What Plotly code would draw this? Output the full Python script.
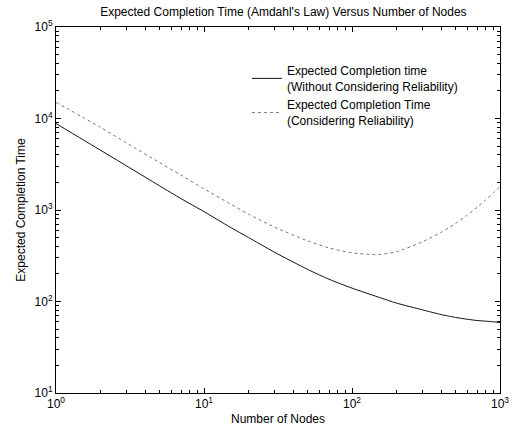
import plotly.graph_objects as go

nodes = [1, 2, 3, 5, 7, 10, 15, 20, 30, 50, 70, 100, 150, 200, 300, 400, 500, 600, 700, 800, 900, 1000]
time_no_rel = [8800, 4500, 3030, 1840, 1330, 960, 650, 500, 345, 225, 175, 140, 112, 96, 81, 72, 67, 64, 62, 61, 60, 59]
time_rel = [15000, 8000, 5400, 3300, 2400, 1700, 1170, 900, 650, 460, 385, 340, 325, 350, 450, 570, 710, 880, 1070, 1290, 1530, 1800]

name1 = "Expected Completion time<br>(Without Considering Reliability)"
name2 = "Expected Completion Time<br>(Considering Reliability)"
title = "Expected Completion Time (Amdahl's Law) Versus Number of Nodes"
xlabel = "Number of Nodes"
ylabel = "Expected Completion Time"
x_ticks = [1, 10, 100, 1000]
x_text = ["10<sup>0</sup>", "10<sup>1</sup>", "10<sup>2</sup>", "10<sup>3</sup>"]
y_ticks = [10, 100, 1000, 10000, 100000]
y_text = ["10<sup>1</sup>", "10<sup>2</sup>", "10<sup>3</sup>", "10<sup>4</sup>", "10<sup>5</sup>"]
x_minor = [m * d for d in [1, 10, 100] for m in range(2, 10)]
y_minor = [m * d for d in [10, 100, 1000, 10000] for m in range(2, 10)]

FONT = "Liberation Sans, Arial, sans-serif"

fig = go.Figure()
fig.add_trace(go.Scatter(x=nodes, y=time_no_rel, mode="lines", name=name1,
                         line=dict(color="#111111", width=1, shape="spline", smoothing=0.6)))
fig.add_trace(go.Scatter(x=nodes, y=time_rel, mode="lines", name=name2,
                         line=dict(color="#777777", width=1, dash="dot", shape="spline", smoothing=0.6)))

axis_common = dict(
    type="log", showgrid=False, zeroline=False, showline=True, linecolor="black",
    linewidth=1, mirror="ticks", ticks="inside", ticklen=5, tickcolor="black",
    tickfont=dict(family=FONT, size=12, color="black"),
)

fig.update_xaxes(**axis_common, range=[0, 3], tickmode="array", tickvals=x_ticks, ticktext=x_text,
                 minor=dict(ticks="inside", ticklen=3, tickcolor="black", showgrid=False,
                            tickmode="array", tickvals=x_minor),
                 title=dict(text=xlabel, font=dict(family=FONT, size=12, color="black"), standoff=4))
fig.update_yaxes(**axis_common, range=[1, 5], tickmode="array", tickvals=y_ticks, ticktext=y_text,
                 minor=dict(ticks="inside", ticklen=3, tickcolor="black", showgrid=False,
                            tickmode="array", tickvals=y_minor),
                 title=dict(text=ylabel, font=dict(family=FONT, size=12, color="black"), standoff=6))

fig.update_layout(
    width=520, height=435,
    margin=dict(l=56, r=11, t=27, b=42),
    paper_bgcolor="white", plot_bgcolor="white",
    title=dict(text=title, x=0.545, xanchor="center", y=0.982, yanchor="top",
               font=dict(family=FONT, size=12, color="black")),
    legend=dict(x=0.43, y=0.92, xanchor="left", yanchor="top", bgcolor="rgba(0,0,0,0)",
                font=dict(family=FONT, size=12, color="black"), tracegroupgap=2),
    font=dict(family=FONT, size=12, color="black"),
)

fig.write_html("out.html")
